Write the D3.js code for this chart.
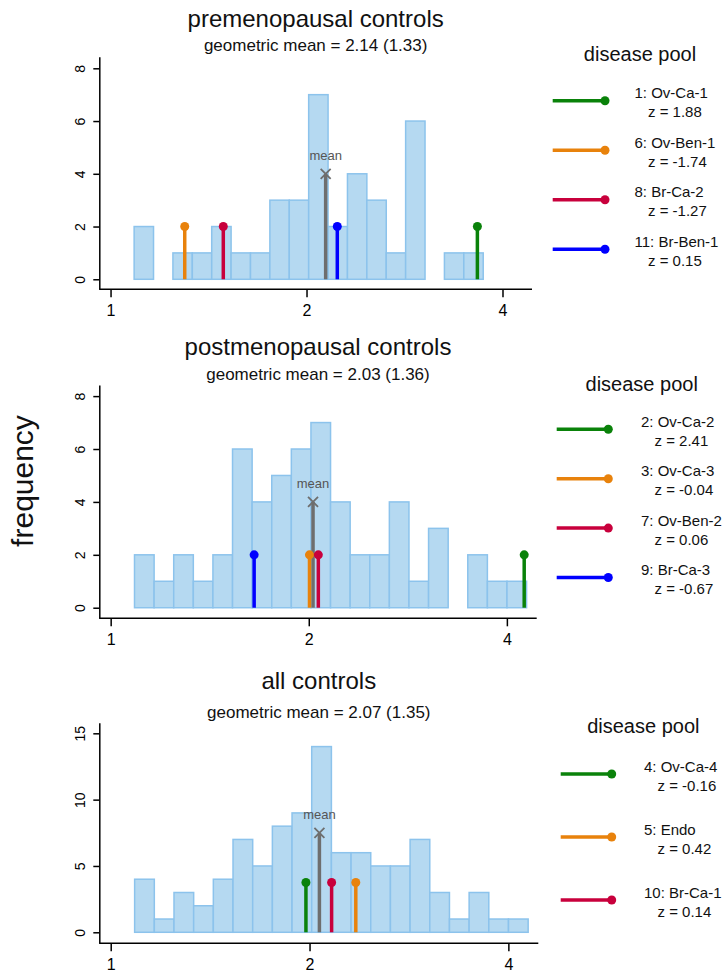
<!DOCTYPE html>
<html>
<head>
<meta charset="utf-8">
<script src="https://cdn.jsdelivr.net/npm/d3@7"></script>
<style>
  body { margin: 0; background: #fff; }
  svg { display: block; font-family: "Liberation Sans", Arial, sans-serif; }
</style>
</head>
<body>
<div id="chart"></div>
<script>
// --- data ---
var panelTitles = ['premenopausal controls', 'postmenopausal controls', 'all controls'];
var gmeanLabels = ['geometric mean = 2.14 (1.33)', 'geometric mean = 2.03 (1.36)', 'geometric mean = 2.07 (1.35)'];
var gmeans = [2.14, 2.03, 2.07];
var meanHeights = [4, 4, 7.5];
var spikeHeights = [2, 2, 3.75];

// histogram bins (log scale): first lower edge and ratio between edges
var binStart = 1.087;
var binRatio = 1.071;
var preCounts = [2, 0, 1, 1, 2, 1, 1, 3, 3, 7, 2, 4, 3, 1, 6, 0, 1, 1, 0, 0];
var postCounts = [2, 1, 2, 1, 2, 6, 4, 5, 6, 7, 4, 2, 2, 4, 1, 3, 0, 2, 1, 1];
var allCounts = [4, 1, 3, 2, 4, 7, 5, 8, 9, 14, 6, 6, 5, 5, 7, 3, 1, 3, 1, 1];

var xTicks = [1, 2, 4];
var yTicks = [[0, 2, 4, 6, 8], [0, 2, 4, 6, 8], [0, 5, 10, 15]];

var poolNames = [
  ['1: Ov-Ca-1', '6: Ov-Ben-1', '8: Br-Ca-2', '11: Br-Ben-1'],
  ['2: Ov-Ca-2', '3: Ov-Ca-3', '7: Ov-Ben-2', '9: Br-Ca-3'],
  ['4: Ov-Ca-4', '5: Endo', '10: Br-Ca-1']
];
var poolZ = [
  ['1.88', '-1.74', '-1.27', '0.15'],
  ['2.41', '-0.04', '0.06', '-0.67'],
  ['-0.16', '0.42', '0.14']
];
var poolValues = [
  [3.66, 1.30, 1.49, 2.23],
  [4.25, 2.005, 2.068, 1.652],
  [1.975, 2.35, 2.16]
];

var green = '#0a820a', orange = '#e8820c', crimson = '#c8003c', blue = '#0000ff';
var poolColors = [
  [green, orange, crimson, blue],
  [green, orange, crimson, blue],
  [green, orange, crimson]
];

var allHist = [preCounts, postCounts, allCounts];

// --- layout ---
var W = 725, H = 973;
var panels = [
  {left: 99.3, right: 532, axisY: 289.3, top: 56.7, yDom: [-0.38, 8.44], titleY: 26.7, subY: 50.7,
    leg: {tx: 640, ty: 60.7, x1: 552.7, x2: 605, y0: 100.7, step: 49.5, textX: 634.5}},
  {left: 99.3, right: 536.7, axisY: 618.3, top: 385, yDom: [-0.4, 8.42], titleY: 355, subY: 380,
    leg: {tx: 641.7, ty: 390.5, x1: 556.7, x2: 608.3, y0: 429.3, step: 49.4, textX: 641}},
  {left: 99.3, right: 538.3, axisY: 943.3, top: 722.7, yDom: [-0.83, 15.8], titleY: 688.5, subY: 718,
    leg: {tx: 643.3, ty: 733.3, x1: 560.7, x2: 611.7, y0: 774, step: 63, textX: 644}}
];

var svg = d3.select('#chart').append('svg')
  .attr('width', W)
  .attr('height', H);

svg.append('rect').attr('width', W).attr('height', H).attr('fill', '#fff');

// y axis title shared by all panels
svg.append('text')
  .attr('transform', 'translate(33,481) rotate(-90)')
  .attr('text-anchor', 'middle')
  .attr('font-size', 30)
  .attr('fill', '#111')
  .text('frequency');

panels.forEach(function (p, i) {
  var g = svg.append('g');

  var x = d3.scaleLog()
    .domain([0.961, 4.44])
    .range([p.left, p.right]);

  var y = d3.scaleLinear()
    .domain(p.yDom)
    .range([p.axisY, p.top]);

  var cx = (p.left + p.right) / 2;

  g.append('text')
    .attr('x', cx).attr('y', p.titleY)
    .attr('text-anchor', 'middle')
    .attr('font-size', 24)
    .attr('fill', '#111')
    .text(panelTitles[i]);

  g.append('text')
    .attr('x', cx).attr('y', p.subY)
    .attr('text-anchor', 'middle')
    .attr('font-size', 17)
    .attr('fill', '#111')
    .text(gmeanLabels[i]);

  // histogram bars
  var bins = allHist[i].map(function (c, k) {
    var lo = binStart * Math.pow(binRatio, k);
    return {lo: lo, hi: lo * binRatio, n: c};
  }).filter(function (b) { return b.n > 0; });

  g.selectAll('.bar')
    .data(bins)
    .enter().append('rect')
    .attr('class', 'bar')
    .attr('x', function (b) { return x(b.lo); })
    .attr('width', function (b) { return x(b.hi) - x(b.lo); })
    .attr('y', function (b) { return y(b.n); })
    .attr('height', function (b) { return y(0) - y(b.n); })
    .attr('fill', '#b5d9f1')
    .attr('stroke', '#8cc3ec')
    .attr('stroke-width', 1.5);

  // axes
  var xAxis = g.append('g')
    .attr('transform', 'translate(0,' + p.axisY + ')')
    .call(d3.axisBottom(x).tickValues(xTicks).tickFormat(d3.format('d')).tickSize(8).tickSizeOuter(0));
  xAxis.select('.domain').attr('stroke', '#000').attr('stroke-width', 1.5)
    .attr('d', 'M' + p.left + ',0H' + p.right);
  xAxis.selectAll('.tick line').attr('stroke', '#000').attr('stroke-width', 1.5);
  xAxis.selectAll('.tick text')
    .attr('font-family', '"Liberation Sans", Arial, sans-serif')
    .attr('font-size', 16)
    .attr('fill', '#000')
    .attr('y', 15)
    .attr('dy', '0.71em');

  var yAxis = g.append('g')
    .attr('transform', 'translate(' + p.left + ',0)')
    .call(d3.axisLeft(y).tickValues(yTicks[i]).tickFormat(d3.format('d')).tickSize(6).tickSizeOuter(0));
  yAxis.select('.domain').attr('stroke', '#000').attr('stroke-width', 1.5);
  yAxis.selectAll('.tick line').attr('stroke', '#000').attr('stroke-width', 1.5);
  yAxis.selectAll('.tick text')
    .attr('font-family', '"Liberation Sans", Arial, sans-serif')
    .attr('font-size', 14)
    .attr('fill', '#000')
    .attr('x', null).attr('dy', null)
    .attr('text-anchor', 'middle')
    .attr('transform', 'translate(-14,0) rotate(-90)');

  // geometric mean marker
  var mx = x(gmeans[i]), my = y(meanHeights[i]);
  g.append('line')
    .attr('x1', mx).attr('x2', mx)
    .attr('y1', y(0)).attr('y2', my)
    .attr('stroke', '#6e6e6e').attr('stroke-width', 3.5);
  g.append('path')
    .attr('d', 'M' + (mx - 5) + ',' + (my - 5) + 'L' + (mx + 5) + ',' + (my + 5) +
      'M' + (mx - 5) + ',' + (my + 5) + 'L' + (mx + 5) + ',' + (my - 5))
    .attr('stroke', '#6e6e6e').attr('stroke-width', 1.8).attr('fill', 'none');
  g.append('text')
    .attr('x', mx).attr('y', my - 14)
    .attr('text-anchor', 'middle')
    .attr('font-size', 13)
    .attr('fill', '#555')
    .text('mean');

  // disease pool spikes
  var spikes = poolValues[i].map(function (v, k) {
    return {v: v, c: poolColors[i][k]};
  });
  var sp = g.selectAll('.spike')
    .data(spikes)
    .enter().append('g')
    .attr('class', 'spike');
  sp.append('line')
    .attr('x1', function (d) { return x(d.v); })
    .attr('x2', function (d) { return x(d.v); })
    .attr('y1', y(0))
    .attr('y2', y(spikeHeights[i]))
    .attr('stroke', function (d) { return d.c; })
    .attr('stroke-width', 3.5);
  sp.append('circle')
    .attr('cx', function (d) { return x(d.v); })
    .attr('cy', y(spikeHeights[i]))
    .attr('r', 4.5)
    .attr('fill', function (d) { return d.c; });

  // legend
  var L = p.leg;
  g.append('text')
    .attr('x', L.tx).attr('y', L.ty)
    .attr('text-anchor', 'middle')
    .attr('font-size', 20)
    .attr('fill', '#111')
    .text('disease pool');

  var items = g.selectAll('.leg')
    .data(poolNames[i])
    .enter().append('g')
    .attr('class', 'leg')
    .attr('transform', function (d, k) { return 'translate(0,' + (L.y0 + k * L.step) + ')'; });
  items.append('line')
    .attr('x1', L.x1).attr('x2', L.x2)
    .attr('stroke', function (d, k) { return poolColors[i][k]; })
    .attr('stroke-width', 3.5);
  items.append('circle')
    .attr('cx', L.x2).attr('r', 4.5)
    .attr('fill', function (d, k) { return poolColors[i][k]; });
  items.append('text')
    .attr('x', L.textX).attr('y', -2.3)
    .attr('font-size', 15)
    .attr('fill', '#111')
    .text(function (d) { return d; });
  items.append('text')
    .attr('x', L.textX + 13.5).attr('y', 16.6)
    .attr('font-size', 15)
    .attr('fill', '#111')
    .text(function (d, k) { return 'z = ' + poolZ[i][k]; });
});
</script>
</body>
</html>
